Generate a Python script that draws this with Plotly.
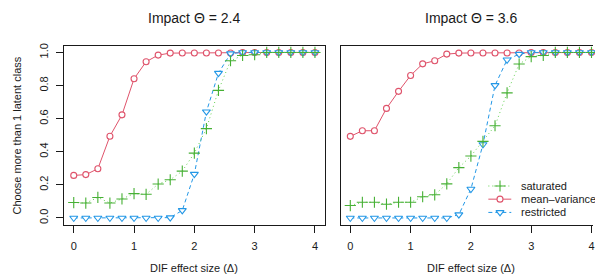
import plotly.graph_objects as go

# ---------------- data ----------------
dif = [0.0, 0.2, 0.4, 0.6, 0.8, 1.0, 1.2, 1.4, 1.6, 1.8, 2.0,
       2.2, 2.4, 2.6, 2.8, 3.0, 3.2, 3.4, 3.6, 3.8, 4.0]

saturated_24 = [0.093, 0.090, 0.124, 0.090, 0.115, 0.147, 0.143, 0.205, 0.231, 0.283, 0.392,
                0.540, 0.771, 0.950, 0.982, 0.986, 1.0, 1.0, 1.0, 1.0, 1.0]
meanvar_24 = [0.257, 0.262, 0.297, 0.494, 0.623, 0.841, 0.944, 0.984, 0.996, 0.997, 0.997,
              0.997, 0.997, 0.997, 1.0, 1.0, 1.0, 1.0, 1.0, 1.0, 1.0]
restricted_24 = [0.0, 0.0, 0.0, 0.0, 0.0, 0.0, 0.0, 0.0, 0.002, 0.046, 0.265,
                 0.642, 0.875, 0.993, 1.0, 1.0, 1.0, 1.0, 1.0, 1.0, 1.0]

saturated_36 = [0.075, 0.095, 0.095, 0.083, 0.095, 0.095, 0.128, 0.140, 0.206, 0.304, 0.374,
                0.463, 0.557, 0.756, 0.930, 0.975, 0.982, 1.0, 1.0, 1.0, 1.0]
meanvar_36 = [0.493, 0.527, 0.527, 0.662, 0.765, 0.861, 0.931, 0.950, 0.990, 0.996, 0.997,
              0.997, 0.997, 0.997, 0.997, 1.0, 1.0, 1.0, 1.0, 1.0, 1.0]
restricted_36 = [0.0, 0.0, 0.0, 0.0, 0.0, 0.0, 0.0, 0.0, 0.0, 0.020, 0.175,
                 0.444, 0.801, 0.956, 0.990, 1.0, 1.0, 1.0, 1.0, 1.0, 1.0]

panel_titles = ["Impact \u0398 = 2.4", "Impact \u0398 = 3.6"]
series_names = ["saturated", "mean\u2013variance", "restricted"]
x_title = "DIF effect size (\u0394)"
y_title = "Choose more than 1 latent class"
x_ticks = [0, 1, 2, 3, 4]
y_ticks = [0.0, 0.2, 0.4, 0.6, 0.8, 1.0]

# ---------------- styling ----------------
W, H = 595, 278
FONT = "Liberation Sans, Arial, sans-serif"
GREEN, GREEN_MK, PINK, BLUE = "#61D04F", "#46B034", "#DF536B", "#2297E6"
INK = "#1a1a1a"

styles = {
    "saturated": dict(color=GREEN, mcolor=GREEN_MK, dash="1px,3px", symbol="cross-thin-open",
                      size=8, fill=GREEN_MK, lw=1.1),
    "mean\u2013variance": dict(color=PINK, mcolor=PINK, dash="solid", symbol="circle",
                               size=6, fill="white", lw=1.1),
    "restricted": dict(color=BLUE, mcolor=BLUE, dash="4px,3px", symbol="triangle-down",
                       size=7, fill="white", lw=1.1),
}


def px_x(p):
    return p / W


def px_y(p):
    return 1 - p / H


fig = go.Figure()

panels = [
    ("x", "y", {"saturated": saturated_24, "mean\u2013variance": meanvar_24, "restricted": restricted_24}),
    ("x2", "y2", {"saturated": saturated_36, "mean\u2013variance": meanvar_36, "restricted": restricted_36}),
]
draw_order = ["mean\u2013variance", "restricted", "saturated"]

for xa, ya, data in panels:
    for name in draw_order:
        s = styles[name]
        fig.add_trace(go.Scatter(
            x=dif, y=data[name], xaxis=xa, yaxis=ya, mode="lines+markers",
            showlegend=False, name=name, cliponaxis=False,
            line=dict(color=s["color"], width=1, dash=s["dash"]),
            marker=dict(symbol=s["symbol"], size=s["size"], color=s["fill"],
                        line=dict(color=s["mcolor"], width=s["lw"])),
        ))

# custom legend (pixel overlay axis)
leg_rows = [185, 198.3, 211.7]
for name, yy in zip(series_names, leg_rows):
    s = styles[name]
    fig.add_trace(go.Scatter(
        x=[490, 513], y=[yy, yy], xaxis="x3", yaxis="y3", mode="lines", showlegend=False,
        line=dict(color=s["color"], width=1, dash=s["dash"]), hoverinfo="skip"))
    fig.add_trace(go.Scatter(
        x=[501.7], y=[yy], xaxis="x3", yaxis="y3", mode="markers", showlegend=False,
        marker=dict(symbol=s["symbol"], size=s["size"], color=s["fill"],
                    line=dict(color=s["mcolor"], width=s["lw"])), hoverinfo="skip"))

# geometry
x_lo, x_hi = -0.16, 4.16
left_dom = [px_x(64.3), px_x(325.7)]
right_dom = [px_x(341.8), 1.0]
right_hi = (595 - 351.5) / 60.5
y_dom = [px_y(224), px_y(43.3)]

axis_common = dict(showgrid=False, zeroline=False, showline=True, linecolor=INK, linewidth=1,
                   ticks="outside", ticklen=7, tickwidth=1, tickcolor=INK,
                   ticklabeloverflow="allow",
                   tickfont=dict(family=FONT, size=11, color=INK))

fig.update_layout(
    width=W, height=H, margin=dict(l=0, r=0, t=0, b=0),
    paper_bgcolor="white", plot_bgcolor="rgba(0,0,0,0)",
    font=dict(family=FONT, color=INK),
    xaxis=dict(domain=left_dom, range=[x_lo, x_hi], tickvals=x_ticks, mirror=True,
               anchor="y", ticklabelstandoff=4, **axis_common),
    yaxis=dict(domain=y_dom, range=[-0.04, 1.04], tickvals=y_ticks, tickformat=".1f",
               tickangle=-90, mirror=True, anchor="x", ticklabelstandoff=4, **axis_common),
    xaxis2=dict(domain=right_dom, range=[x_lo, right_hi], tickvals=x_ticks, mirror=True,
                anchor="y2", ticklabelstandoff=4, **axis_common),
    yaxis2=dict(domain=y_dom, range=[-0.04, 1.04], showgrid=False, zeroline=False,
                showline=True, linecolor=INK, linewidth=1, mirror=False,
                showticklabels=False, ticks="", anchor="x2"),
    xaxis3=dict(domain=[0, 1], range=[0, W], visible=False, anchor="y3", fixedrange=True),
    yaxis3=dict(domain=[0, 1], range=[H, 0], visible=False, anchor="x3", fixedrange=True),
)

ann = []
for title, cx in zip(panel_titles, [195, 473]):
    ann.append(dict(text=title, x=px_x(cx), y=px_y(15), xref="paper", yref="paper",
                    showarrow=False, xanchor="center", yanchor="middle",
                    font=dict(family=FONT, size=14, color=INK)))
    ann.append(dict(text=x_title, x=px_x(cx), y=px_y(268), xref="paper", yref="paper",
                    showarrow=False, xanchor="center", yanchor="middle",
                    font=dict(family=FONT, size=11, color=INK)))
ann.append(dict(text=y_title, x=px_x(17), y=px_y(134), xref="paper", yref="paper",
                showarrow=False, xanchor="center", yanchor="middle", textangle=-90,
                font=dict(family=FONT, size=11, color=INK)))
for name, yy in zip(series_names, leg_rows):
    ann.append(dict(text=name, x=px_x(521), y=px_y(yy), xref="paper", yref="paper",
                    showarrow=False, xanchor="left", yanchor="middle",
                    font=dict(family=FONT, size=11, color=INK)))
fig.update_layout(annotations=ann)

fig.write_html("out.html", config={"displayModeBar": False},
               post_script="document.body.style.margin='0';document.body.style.overflow='hidden';")
